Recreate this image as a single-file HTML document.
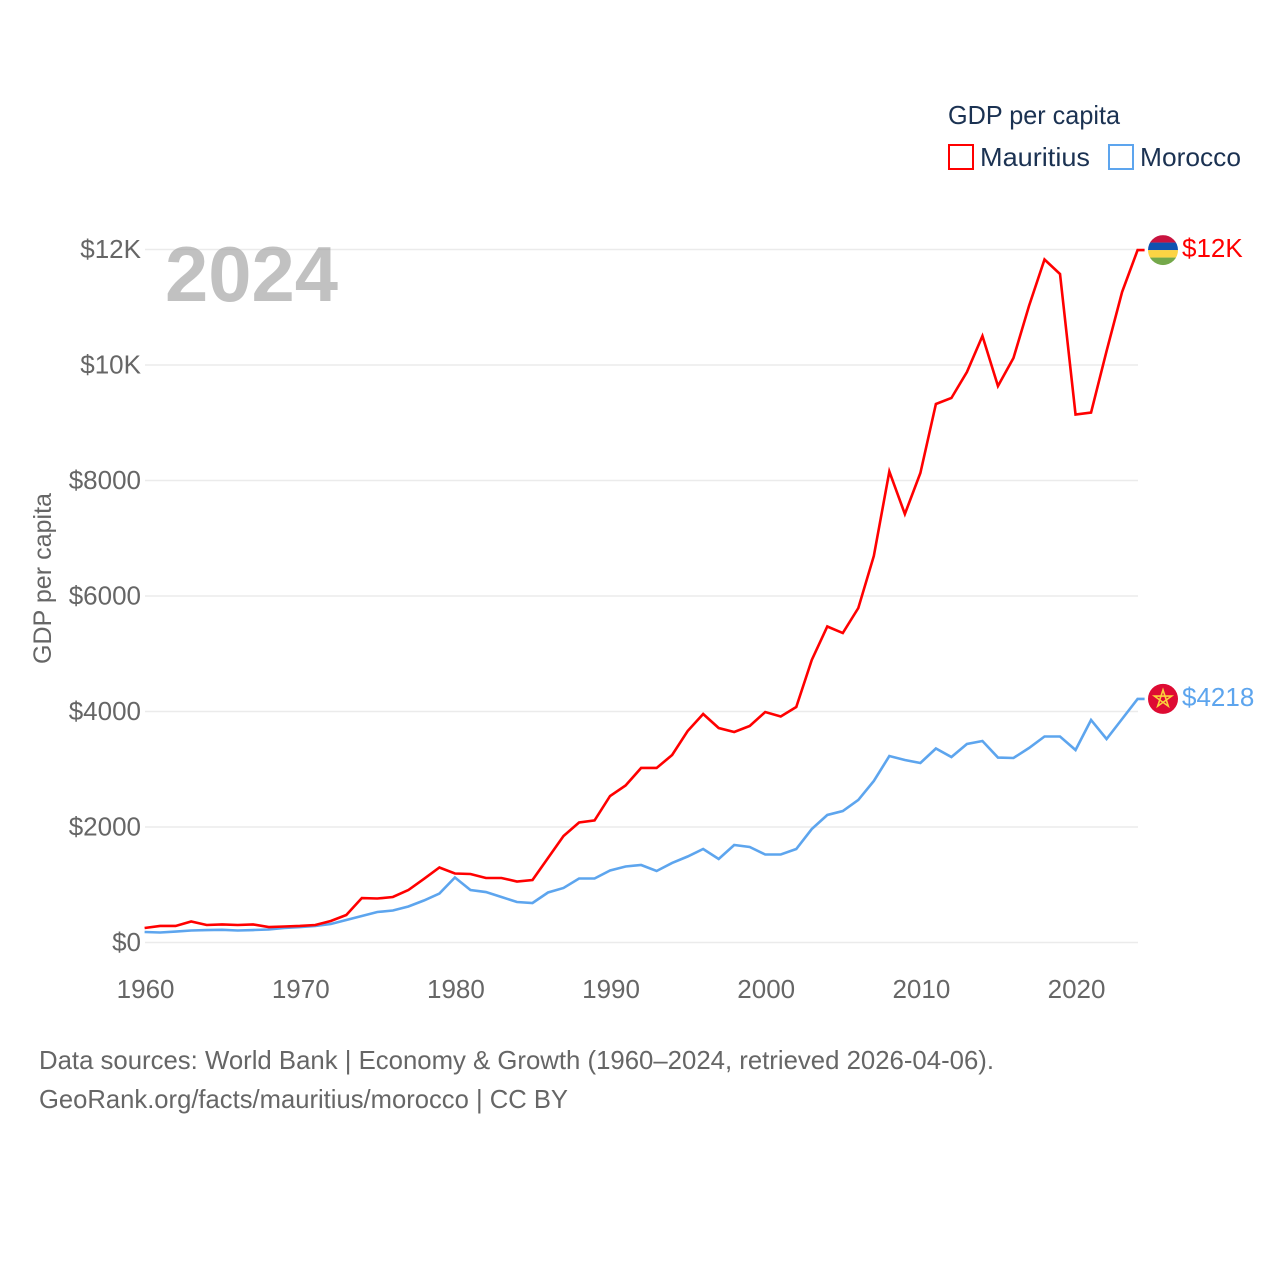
<!DOCTYPE html>
<html lang="en">
<head>
<meta charset="utf-8">
<title>GDP per capita: Mauritius vs Morocco</title>
<style>
html,body{margin:0;padding:0;background:#fff;}
svg{display:block;}
text{font-family:"Liberation Sans",sans-serif;}
</style>
</head>
<body>
<svg id="chart" xmlns="http://www.w3.org/2000/svg" width="1280" height="1280" viewBox="0 0 1280 1280">
  <rect x="0" y="0" width="1280" height="1280" fill="#ffffff"/>
  <g id="grid"></g>
  <g id="yticks"></g>
  <g id="xticks"></g>
  <text x="165" y="301" font-size="78" font-weight="700" fill="#a0a0a0" fill-opacity="0.65" textLength="173" lengthAdjust="spacingAndGlyphs">2024</text>
  <text transform="translate(51,664) rotate(-90)" font-size="25" fill="#666666" textLength="171" lengthAdjust="spacingAndGlyphs">GDP per capita</text>
  <g id="series"></g>
  <g id="endmarks"></g>
  <g>
    <text x="948" y="124" font-size="26" fill="#1b3252" textLength="172" lengthAdjust="spacingAndGlyphs">GDP per capita</text>
    <rect x="949" y="145" width="24" height="24" fill="#ffffff" stroke="#ff0000" stroke-width="2"/>
    <text x="980" y="166" font-size="26" fill="#1b3252" textLength="110" lengthAdjust="spacingAndGlyphs">Mauritius</text>
    <rect x="1109" y="145" width="24" height="24" fill="#ffffff" stroke="#5da5ee" stroke-width="2"/>
    <text x="1140" y="166" font-size="26" fill="#1b3252" textLength="101" lengthAdjust="spacingAndGlyphs">Morocco</text>
  </g>
  <g>
    <text x="39" y="1069" font-size="26" fill="#666666" textLength="955" lengthAdjust="spacingAndGlyphs">Data sources: World Bank | Economy &amp; Growth (1960–2024, retrieved 2026-04-06).</text>
    <text x="39" y="1108" font-size="26" fill="#666666" textLength="529" lengthAdjust="spacingAndGlyphs">GeoRank.org/facts/mauritius/morocco | CC BY</text>
  </g>
</svg>
<script>
var years = [1960,1961,1962,1963,1964,1965,1966,1967,1968,1969,1970,1971,1972,1973,1974,1975,1976,1977,1978,1979,1980,1981,1982,1983,1984,1985,1986,1987,1988,1989,1990,1991,1992,1993,1994,1995,1996,1997,1998,1999,2000,2001,2002,2003,2004,2005,2006,2007,2008,2009,2010,2011,2012,2013,2014,2015,2016,2017,2018,2019,2020,2021,2022,2023,2024];
var mauritius = [251,286,286,364,303,312,303,312,268,277,286,303,372,476,770,762,788,909,1100,1299,1195,1186,1117,1117,1056,1082,1463,1844,2078,2113,2537,2719,3022,3022,3247,3662,3957,3714,3645,3749,3991,3913,4078,4892,5472,5359,5792,6693,8156,7420,8130,9325,9429,9879,10502,9636,10121,11022,11827,11576,9143,9177,10242,11264,11990];
var morocco = [182,173,190,208,216,220,208,216,225,251,268,286,320,390,459,528,554,623,727,848,1126,909,874,788,701,684,866,944,1108,1108,1247,1316,1342,1238,1377,1489,1619,1446,1688,1654,1524,1524,1619,1965,2208,2277,2468,2797,3229,3160,3108,3359,3212,3437,3489,3203,3195,3368,3567,3567,3333,3853,3524,3870,4218];
var yTickValues = [0,2000,4000,6000,8000,10000,12000];
var yTickLabels = ["$0","$2000","$4000","$6000","$8000","$10K","$12K"];
var xTickValues = [1960,1970,1980,1990,2000,2010,2020];
var xTickLabels = ["1960","1970","1980","1990","2000","2010","2020"];
var endLabels = ["$12K","$4218"];

var NS = 'http://www.w3.org/2000/svg';
function xScale(year){ return 144.6 + (year - 1960) * (1137.6 - 144.6) / 64; }
function yScale(value){ return 942.5 - value * 693 / 12000; }
function make(tag, parent){
  var node = document.createElementNS(NS, tag);
  parent.appendChild(node);
  return node;
}

var gridGroup = document.getElementById('grid');
var yGroup = document.getElementById('yticks');
yTickValues.forEach(function(v, i){
  var line = make('line', gridGroup);
  
  
  line.setAttribute('x1', 145);
  line.setAttribute('x2', 1138);
  line.setAttribute('y1', yScale(v));
  line.setAttribute('y2', yScale(v));
  line.setAttribute('stroke', '#ebebeb');
  line.setAttribute('stroke-width', 1.5);
  var label = make('text', yGroup);
  
  
  label.setAttribute('x', 141);
  label.setAttribute('y', yScale(v) + 8.5);
  label.setAttribute('text-anchor', 'end');
  label.setAttribute('font-size', 26);
  label.setAttribute('fill', '#666666');
  label.textContent = yTickLabels[i];
});

var xGroup = document.getElementById('xticks');
xTickValues.forEach(function(v, i){
  var label = make('text', xGroup);
  
  
  label.setAttribute('x', xScale(v) + 1);
  label.setAttribute('y', 998);
  label.setAttribute('text-anchor', 'middle');
  label.setAttribute('font-size', 26);
  label.setAttribute('fill', '#666666');
  label.textContent = xTickLabels[i];
});

function pathFor(values){
  var d = values.map(function(v, i){
    return (i ? 'L' : 'M') + xScale(years[i]).toFixed(2) + ' ' + yScale(v).toFixed(2);
  }).join(' ');
  var last = values[values.length - 1];
  return d + ' L' + (xScale(years[years.length - 1]) + 7) + ' ' + yScale(last).toFixed(2);
}

var seriesGroup = document.getElementById('series');
var moroccoLine = make('path', seriesGroup);


moroccoLine.setAttribute('d', pathFor(morocco));
moroccoLine.setAttribute('fill', 'none');
moroccoLine.setAttribute('stroke', '#5da5ee');
moroccoLine.setAttribute('stroke-width', 2.6);

var mauritiusLine = make('path', seriesGroup);


mauritiusLine.setAttribute('d', pathFor(mauritius));
mauritiusLine.setAttribute('fill', 'none');
mauritiusLine.setAttribute('stroke', '#ff0000');
mauritiusLine.setAttribute('stroke-width', 2.6);

var endGroup = document.getElementById('endmarks');

/* Mauritius end marker */
var muY = yScale(mauritius[mauritius.length - 1]);
var muFlag = make('g', endGroup);


muFlag.setAttribute('transform', 'translate(1163,' + muY + ')');
var muClip = make('clipPath', muFlag);
muClip.setAttribute('id', 'mu-clip');
var muCircle = make('circle', muClip);
muCircle.setAttribute('r', 15);
var muStripes = make('g', muFlag);
muStripes.setAttribute('clip-path', 'url(#mu-clip)');
var muColors = ['#c8133f', '#0f52b0', '#fcd444', '#74a84a'];
muColors.forEach(function(color, i){
  var stripe = make('rect', muStripes);
  
  
  stripe.setAttribute('x', -15);
  stripe.setAttribute('y', -15 + i * 7.5);
  stripe.setAttribute('width', 30);
  stripe.setAttribute('height', 7.6);
  stripe.setAttribute('fill', color);
});
var muLabel = make('text', endGroup);


muLabel.setAttribute('x', 1182);
muLabel.setAttribute('y', muY + 7);
muLabel.setAttribute('font-size', 26);
muLabel.setAttribute('fill', '#ff0000');
muLabel.textContent = endLabels[0];

/* Morocco end marker */
var maY = yScale(morocco[morocco.length - 1]);
var maFlag = make('g', endGroup);


maFlag.setAttribute('transform', 'translate(1163,' + maY + ')');
var maCircle = make('circle', maFlag);


maCircle.setAttribute('r', 15);
maCircle.setAttribute('fill', '#de0b33');
var maStar = make('polygon', maFlag);


maStar.setAttribute('points', '0,-9 5.3,7.3 -8.6,-2.8 8.6,-2.8 -5.3,7.3');
maStar.setAttribute('fill', 'none');
maStar.setAttribute('stroke', '#fbd23c');
maStar.setAttribute('stroke-width', 1.6);
var maLabel = make('text', endGroup);


maLabel.setAttribute('x', 1182);
maLabel.setAttribute('y', maY + 7);
maLabel.setAttribute('font-size', 26);
maLabel.setAttribute('fill', '#5da5ee');
maLabel.textContent = endLabels[1];
</script>
</body>
</html>
